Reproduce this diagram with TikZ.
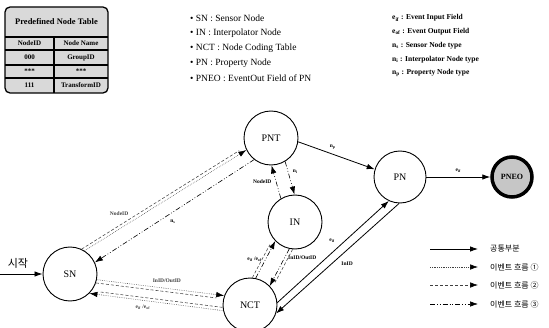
\documentclass[tikz,border=0pt]{standalone}
\usepackage{fontspec}
\setmainfont{Liberation Serif}
\newfontfamily\kor{Noto Sans CJK KR}
\usetikzlibrary{arrows.meta,calc}
\begin{document}
\begin{tikzpicture}[x=1pt,y=1pt,
  state/.style={circle,draw,line width=0.9pt,fill=white,minimum size=54pt,inner sep=0pt,font=\fontsize{10}{12}\selectfont},
  lbl/.style={font=\fontsize{5.5}{6}\selectfont\bfseries,inner sep=1.5pt},
  tip/.style={-{Latex[length=8pt,width=5.5pt,black]}},
  solidline/.style={line width=0.8pt},
  flowone/.style={line width=0.55pt,dash pattern=on 0.6pt off 1.2pt,black!75},
  flowtwo/.style={line width=0.55pt,dash pattern=on 3pt off 2pt,black!75},
  flowthree/.style={line width=0.6pt,dash pattern=on 5pt off 2pt on 0.8pt off 2pt on 0.8pt off 2pt},
  tabtxt/.style={font=\fontsize{7}{8}\selectfont\bfseries,inner sep=0pt},
  bul/.style={anchor=west,font=\fontsize{9.5}{11}\selectfont,inner sep=0pt},
  defn/.style={anchor=west,font=\fontsize{7.5}{9}\selectfont\bfseries,inner sep=0pt},
  legtxt/.style={anchor=west,font=\kor\fontsize{8}{9}\selectfont,inner sep=0pt},
]
\useasboundingbox (0,0) rectangle (549,327);

% ---- predefined node table ----
\fill[gray!30,rounded corners=5pt] (5,234) rectangle (108,320);
\draw[line width=1.1pt] (5,290) -- (108,290) (5,277) -- (108,277) (5,262) -- (108,262) (5,249) -- (108,249) (54,290) -- (54,234);
\draw[line width=1.3pt,rounded corners=5pt] (5,234) rectangle (108,320);
\node[tabtxt,font=\fontsize{8.5}{9}\selectfont\bfseries] (th) at (56.5,305) {Predefined Node Table};
\node[tabtxt] (t11) at (29.5,283.5) {NodeID};
\node[tabtxt] (t12) at (81,283.5) {Node Name};
\node[tabtxt] (t21) at (29.5,269.5) {000};
\node[tabtxt] (t22) at (81,269.5) {GroupID};
\node[tabtxt] (t31) at (29.5,255.5) {***};
\node[tabtxt] (t32) at (81,255.5) {***};
\node[tabtxt] (t41) at (29.5,241.5) {111};
\node[tabtxt] (t42) at (81,241.5) {TransformID};

% ---- abbreviations ----
\node[bul] (b1) at (190,309) {• SN : Sensor Node};
\node[bul] (b2) at (190,294) {• IN : Interpolator Node};
\node[bul] (b3) at (190,279) {• NCT : Node Coding Table};
\node[bul] (b4) at (190,264) {• PN : Property Node};
\node[bul] (b5) at (190,249) {• PNEO : EventOut Field of PN};

\node[defn] (d1) at (392,309) {e\textsubscript{if} : Event Input Field};
\node[defn] (d2) at (392,295.25) {e\textsubscript{of} : Event Output Field};
\node[defn] (d3) at (392,281.5) {n\textsubscript{s} : Sensor Node type};
\node[defn] (d4) at (392,267.75) {n\textsubscript{i} : Interpolator Node type};
\node[defn] (d5) at (392,254) {n\textsubscript{p} : Property Node type};

% ---- states ----
\node[state] (SN) at (70,53) {SN};
\node[state] (PNT) at (271,189) {PNT};
\node[state] (IN) at (295,105) {IN};
\node[state] (NCT) at (250,22) {NCT};
\node[state,minimum size=52pt] (PN) at (400,150) {PN};
\node[circle,draw,line width=3.5pt,fill=gray!45,minimum size=40pt,inner sep=0pt,font=\fontsize{8}{9}\selectfont\bfseries] (PNEO) at (512,150) {PNEO};

% ---- start ----
\coordinate (st) at (0,53);
\draw[solidline,tip] (st) -- node[pos=0.42,above=5pt,font=\kor\fontsize{11}{12}\selectfont,inner sep=0pt] (start) {시작} (SN.west);

% ---- SN <-> PNT ----
\draw[flowone,tip] (SN.58) -- node[lbl,pos=0.3,above left=3pt] (l1) {NodeID} (PNT.206);
\draw[flowtwo,shorten >=7pt] (SN.65) -- (PNT.199);
\draw[flowthree,tip] (PNT.232) -- node[lbl,pos=0.55,below right=2pt] (l2) {n\textsubscript{s}} (SN.25);

% ---- SN <-> NCT ----
\draw[flowone,tip] (SN.-12) -- node[lbl,pos=0.55,above=4pt] (l3) {InID/OutID} (NCT.160);
\draw[flowtwo,shorten >=7pt] (SN.-19) -- (NCT.167);
\draw[flowone,tip] (NCT.192) -- node[lbl,pos=0.6,below=3pt] (l4) {e\textsubscript{if} /e\textsubscript{of}} (SN.-45);
\draw[flowtwo,shorten >=7pt] (NCT.185) -- (SN.-38);

% ---- PNT <-> IN ----
\draw[flowthree,tip] (PNT.-59) -- node[lbl,pos=0.3,right=3pt] (l5) {n\textsubscript{i}} (IN.91);
\draw[flowthree,tip] (IN.121) -- node[lbl,pos=0.5,left=3pt] (l6) {NodeID} (PNT.-89);

% ---- IN <-> NCT ----
\draw[flowthree,tip] (NCT.78.7) -- node[lbl,pos=0.5,left=2pt] (l7) {e\textsubscript{if} /e\textsubscript{of}} (IN.224.3);
\draw[flowtwo,shorten >=7pt] (NCT.85.5) -- (IN.217.5);
\draw[flowthree,tip] (IN.258.7) -- node[lbl,pos=0.25,right=2pt] (l8) {InID/OutID} (NCT.44.3);
\draw[flowtwo,shorten >=7pt] (IN.265.5) -- (NCT.37.5);

% ---- NCT <-> PN ----
\draw[solidline,tip] (NCT.5) -- node[lbl,pos=0.55,above left=2pt] (l9) {e\textsubscript{if}} (PN.245);
\draw[solidline,tip] (PN.268) -- node[lbl,pos=0.5,below right=2pt] (l10) {InID} (NCT.-18);

% ---- PNT -> PN -> PNEO ----
\draw[solidline,tip] (PNT.-8) -- node[lbl,pos=0.45,above=3pt] (l11) {n\textsubscript{p}} (PN.163);
\draw[solidline,tip] (PN.east) -- node[lbl,pos=0.5,above=3pt] (l12) {e\textsubscript{if}} (PNEO.west);

% ---- legend ----
\coordinate (la1) at (430,78);  \coordinate (lb1) at (478,78);
\coordinate (la2) at (430,60);  \coordinate (lb2) at (478,60);
\coordinate (la3) at (430,42);  \coordinate (lb3) at (478,42);
\coordinate (la4) at (430,23);  \coordinate (lb4) at (478,23);
\draw[solidline,tip] (la1) -- (lb1);
\draw[flowone,tip] (la2) -- (lb2);
\draw[flowtwo,tip] (la3) -- (lb3);
\draw[flowthree,tip] (la4) -- (lb4);
\node[legtxt] (g1) at (490,78) {공통부분};
\node[legtxt] (g2) at (490,60) {이벤트 흐름 ①};
\node[legtxt] (g3) at (490,42) {이벤트 흐름 ②};
\node[legtxt] (g4) at (490,23) {이벤트 흐름 ③};
\end{tikzpicture}
\end{document}
